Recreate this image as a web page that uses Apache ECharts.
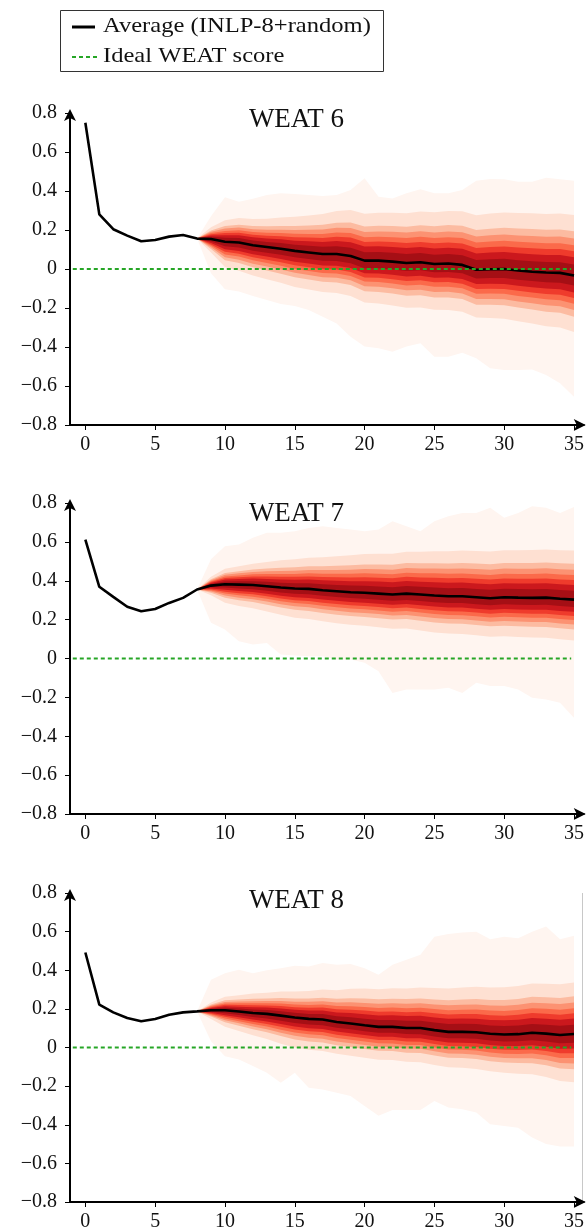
<!DOCTYPE html>
<html><head><meta charset="utf-8">
<script src="https://cdn.jsdelivr.net/npm/echarts@6/dist/echarts.min.js"></script>
<style>html,body{margin:0;padding:0;background:#fff}#c{width:587px;height:1232px}</style>
</head><body><div id="c"></div>
<script>
// ---------- data ----------
const xs = [0,1,2,3,4,5,6,7,8,9,10,11,12,13,14,15,16,17,18,19,20,21,22,23,24,25,26,27,28,29,30,31,32,33,34,35];
const bandStart = 8; // bands exist for x = 8..35
const xTicks = [0,5,10,15,20,25,30,35];
const titles = ['WEAT 6','WEAT 7','WEAT 8'];
const legendNames = ['Average (INLP-8+random)','Ideal WEAT score'];
const idealX = [-0.9, 34.8];

const mean6 = [0.75,0.28,0.204,0.171,0.142,0.149,0.166,0.174,0.156,0.154,0.14,0.136,0.122,0.113,0.104,0.093,0.085,0.077,0.077,0.067,0.043,0.043,0.038,0.031,0.035,0.026,0.028,0.021,-0.004,-0.001,0.0,-0.008,-0.014,-0.018,-0.02,-0.033];
const outerHi6 = [0.156,0.27,0.368,0.345,0.36,0.38,0.388,0.385,0.38,0.374,0.38,0.405,0.465,0.371,0.362,0.388,0.409,0.388,0.388,0.405,0.453,0.462,0.46,0.448,0.448,0.468,0.46,0.453];
const outerLo6 = [0.156,-0.022,-0.104,-0.116,-0.138,-0.159,-0.179,-0.19,-0.21,-0.245,-0.279,-0.347,-0.398,-0.407,-0.424,-0.398,-0.381,-0.45,-0.45,-0.43,-0.458,-0.509,-0.518,-0.518,-0.515,-0.544,-0.586,-0.655];
const spreadHi6 = [0,0.06,0.11,0.125,0.135,0.145,0.16,0.175,0.19,0.205,0.22,0.235,0.24,0.245,0.25,0.255,0.26,0.265,0.27,0.275,0.28,0.285,0.29,0.295,0.3,0.3,0.305,0.31];
const spreadLo6 = [0,0.07,0.13,0.145,0.155,0.165,0.175,0.185,0.19,0.195,0.2,0.205,0.215,0.22,0.225,0.23,0.232,0.235,0.238,0.24,0.245,0.25,0.255,0.26,0.265,0.275,0.28,0.29];

const mean7 = [0.612,0.369,0.317,0.266,0.243,0.255,0.286,0.312,0.355,0.375,0.382,0.38,0.378,0.372,0.365,0.36,0.358,0.351,0.346,0.341,0.338,0.334,0.329,0.334,0.329,0.324,0.32,0.32,0.315,0.31,0.315,0.313,0.312,0.313,0.307,0.303];
const outerHi7 = [0.355,0.51,0.578,0.586,0.621,0.647,0.647,0.655,0.672,0.681,0.672,0.664,0.655,0.664,0.706,0.681,0.655,0.706,0.732,0.749,0.749,0.775,0.724,0.749,0.783,0.775,0.749,0.78];
const outerLo7 = [0.355,0.184,0.149,0.089,0.072,0.08,0.02,0.015,0.012,0.012,-0.005,-0.005,-0.022,-0.065,-0.177,-0.16,-0.16,-0.16,-0.151,-0.177,-0.125,-0.142,-0.142,-0.16,-0.202,-0.211,-0.228,-0.305];
const spreadHi7 = [0,0.045,0.08,0.095,0.11,0.125,0.14,0.15,0.16,0.17,0.18,0.19,0.2,0.205,0.21,0.215,0.22,0.228,0.232,0.235,0.238,0.24,0.242,0.244,0.246,0.248,0.25,0.252];
const spreadLo7 = [0,0.05,0.095,0.11,0.12,0.13,0.14,0.15,0.155,0.16,0.165,0.168,0.17,0.173,0.176,0.18,0.185,0.19,0.192,0.194,0.196,0.198,0.2,0.202,0.204,0.206,0.208,0.21];

const mean8 = [0.492,0.222,0.182,0.153,0.136,0.148,0.17,0.182,0.187,0.193,0.193,0.186,0.179,0.174,0.165,0.155,0.148,0.145,0.132,0.124,0.115,0.107,0.107,0.101,0.101,0.09,0.081,0.081,0.079,0.071,0.067,0.069,0.076,0.072,0.065,0.07];
const outerHi8 = [0.187,0.351,0.385,0.403,0.385,0.4,0.411,0.423,0.42,0.437,0.428,0.432,0.411,0.377,0.428,0.454,0.48,0.574,0.588,0.595,0.6,0.561,0.574,0.566,0.6,0.626,0.561,0.578];
const outerLo8 = [0.187,0.033,-0.045,-0.062,-0.096,-0.131,-0.182,-0.131,-0.208,-0.217,-0.234,-0.251,-0.303,-0.354,-0.324,-0.324,-0.324,-0.277,-0.311,-0.32,-0.337,-0.397,-0.406,-0.415,-0.466,-0.5,-0.513,-0.513];
const spreadHi8 = [0,0.04,0.07,0.085,0.1,0.11,0.125,0.135,0.145,0.155,0.165,0.18,0.19,0.195,0.2,0.205,0.21,0.218,0.225,0.23,0.235,0.24,0.245,0.25,0.255,0.258,0.262,0.267];
const spreadLo8 = [0,0.045,0.085,0.1,0.115,0.13,0.145,0.155,0.16,0.163,0.165,0.167,0.168,0.17,0.172,0.175,0.177,0.18,0.183,0.186,0.19,0.194,0.198,0.205,0.215,0.225,0.238,0.25];

// relative widths of the inner quantile bands (read at x = 35)
const innerRatios = [1, 0.73, 0.61, 0.5, 0.4, 0.3, 0.18];

// ---------- styling ----------
const reds = ['#fff5f0','#fee0d2','#fcbba1','#fc9272','#fb6a4a','#ef3b2c','#cb181d','#a50f15'];
const FONT = '"Liberation Serif","DejaVu Serif",serif';
const green = '#26a626';

const panels = [
  {mean: mean6, hi: outerHi6, lo: outerLo6, sHi: spreadHi6, sLo: spreadLo6, top: 113, height: 312, titleY: 121},
  {mean: mean7, hi: outerHi7, lo: outerLo7, sHi: spreadHi7, sLo: spreadLo7, top: 503, height: 311, titleY: 515},
  {mean: mean8, hi: outerHi8, lo: outerLo8, sHi: spreadHi8, sLo: spreadLo8, top: 893, height: 310, titleY: 902}
];

function buildBands(p) {
  const bands = [{hi: p.hi, lo: p.lo}];
  innerRatios.forEach(r => {
    bands.push({
      hi: p.sHi.map((s, i) => p.mean[i + bandStart] + s * r),
      lo: p.sLo.map((s, i) => p.mean[i + bandStart] - s * r)
    });
  });
  return bands;
}

const fmtY = v => {
  const r = Math.round(v * 10) / 10;
  return r === 0 ? '0' : String(r).replace('-', '\u2212');
};

const grids = [], xAxes = [], yAxes = [], series = [];
panels.forEach((p, idx) => {
  grids.push({left: 70, width: 515, top: p.top, height: p.height});
  xAxes.push({
    type: 'value', gridIndex: idx, min: -1.1, max: 35.7,
    axisLine: {onZero: false, lineStyle: {color: '#000', width: 2}, symbol: ['none', 'arrow'], symbolSize: [9, 12], symbolOffset: [0, 2]},
    axisTick: {show: true, length: 5, lineStyle: {color: '#000', width: 1}, customValues: xTicks},
    axisLabel: {customValues: xTicks, margin: 10, fontFamily: FONT, fontSize: 20, color: '#111'},
    splitLine: {show: false}
  });
  yAxes.push({
    type: 'value', gridIndex: idx, min: -0.8, max: 0.8, interval: 0.2,
    axisLine: {onZero: false, show: true, lineStyle: {color: '#000', width: 2}, symbol: ['none', 'arrow'], symbolSize: [9, 12], symbolOffset: [0, 4]},
    axisTick: {show: true, length: 5, lineStyle: {color: '#000', width: 1}},
    axisLabel: {formatter: fmtY, margin: 13, fontFamily: FONT, fontSize: 20, color: '#111'},
    splitLine: {show: false}
  });
  const bands = buildBands(p);
  series.push({
    type: 'custom', xAxisIndex: idx, yAxisIndex: idx, silent: true, z: 1,
    data: bands.map(() => [xs[bandStart], 0]),
    renderItem: (params, api) => {
      const b = bands[params.dataIndex];
      const pts = [];
      for (let i = 0; i < b.hi.length; i++) pts.push(api.coord([xs[i + bandStart], b.hi[i]]));
      for (let i = b.lo.length - 1; i >= 0; i--) pts.push(api.coord([xs[i + bandStart], b.lo[i]]));
      return {type: 'polygon', shape: {points: pts}, style: {fill: reds[params.dataIndex]}};
    }
  });
  series.push({
    type: 'line', name: legendNames[0], xAxisIndex: idx, yAxisIndex: idx, z: 3,
    data: p.mean.map((v, i) => [xs[i], v]), showSymbol: false, symbol: 'none',
    lineStyle: {color: '#000', width: 2.6}, silent: true, animation: false
  });
  series.push({
    type: 'line', name: legendNames[1], xAxisIndex: idx, yAxisIndex: idx, z: 4,
    data: idealX.map(x => [x, 0]), showSymbol: false, symbol: 'none',
    lineStyle: {color: green, width: 2, type: [4, 3]}, silent: true, animation: false
  });
});

const graphic = [
  {type: 'rect', shape: {x: 60.5, y: 10.5, width: 323, height: 61}, style: {fill: '#fff', stroke: '#333', lineWidth: 1}, z: 10},
  {type: 'line', shape: {x1: 72, y1: 27, x2: 95, y2: 27}, style: {stroke: '#000', lineWidth: 3}, z: 11},
  {type: 'line', shape: {x1: 72, y1: 57, x2: 97, y2: 57}, style: {stroke: green, lineWidth: 2, lineDash: [4, 3]}, z: 11},
  {type: 'text', x: 103, y: 26, scaleX: 1.17, style: {text: legendNames[0], font: '21px ' + FONT, fill: '#111', textVerticalAlign: 'middle'}, z: 11},
  {type: 'text', x: 103, y: 56, scaleX: 1.17, style: {text: legendNames[1], font: '21px ' + FONT, fill: '#111', textVerticalAlign: 'middle'}, z: 11},
  {type: 'line', shape: {x1: 582.5, y1: 893, x2: 582.5, y2: 1203}, style: {stroke: '#c8c8c8', lineWidth: 1}, z: 0}
];
panels.forEach((p, idx) => {
  graphic.push({type: 'text', x: 296.5, y: p.titleY - 1, style: {text: titles[idx], font: '27px ' + FONT, fill: '#111', textAlign: 'center', textVerticalAlign: 'middle'}, z: 11});
});

const chart = echarts.init(document.getElementById('c'), null, {renderer: 'canvas'});
chart.setOption({
  animation: false,
  backgroundColor: '#fff',
  grid: grids, xAxis: xAxes, yAxis: yAxes, series: series, graphic: graphic
});
</script></body></html>
